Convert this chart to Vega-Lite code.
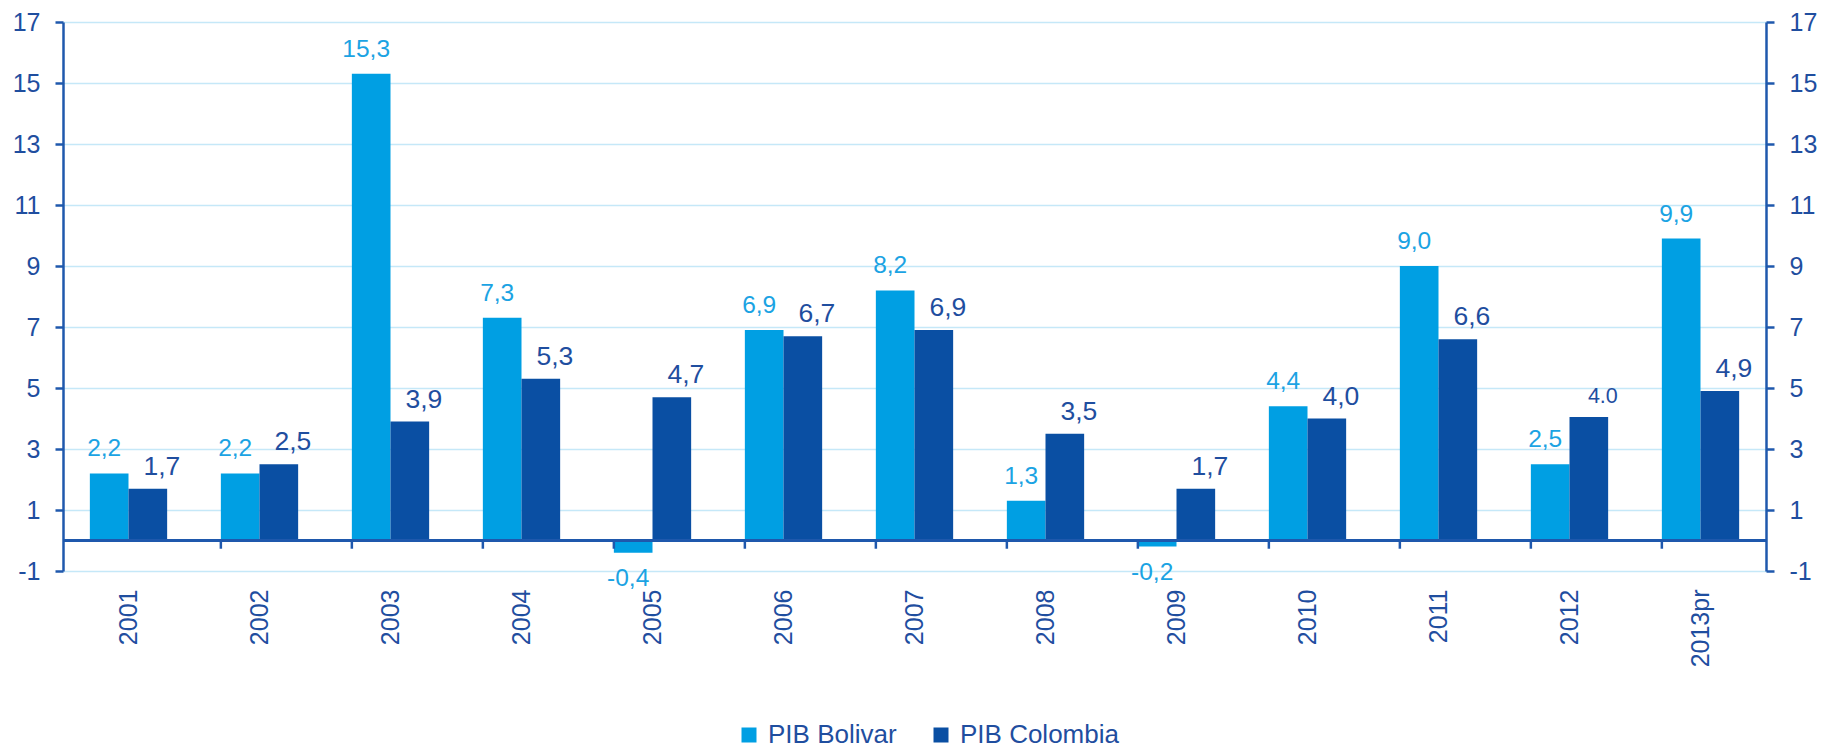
{
  "$schema": "https://vega.github.io/schema/vega-lite/v6.json",
  "autosize": {"type": "none"},
  "padding": {"left": 63, "top": 22, "right": 55, "bottom": 179},
  "width": 1703,
  "height": 549,
  "background": "white",
  "config": {
    "view": {"stroke": null},
    "font": "Liberation Sans"
  },
  "data": {
    "values": [
      {"year": "2001", "series": "PIB Bolivar", "value": 2.2, "label": "2,2"},
      {"year": "2001", "series": "PIB Colombia", "value": 1.7, "label": "1,7"},
      {"year": "2002", "series": "PIB Bolivar", "value": 2.2, "label": "2,2"},
      {"year": "2002", "series": "PIB Colombia", "value": 2.5, "label": "2,5"},
      {"year": "2003", "series": "PIB Bolivar", "value": 15.3, "label": "15,3"},
      {"year": "2003", "series": "PIB Colombia", "value": 3.9, "label": "3,9"},
      {"year": "2004", "series": "PIB Bolivar", "value": 7.3, "label": "7,3"},
      {"year": "2004", "series": "PIB Colombia", "value": 5.3, "label": "5,3"},
      {"year": "2005", "series": "PIB Bolivar", "value": -0.4, "label": "-0,4"},
      {"year": "2005", "series": "PIB Colombia", "value": 4.7, "label": "4,7"},
      {"year": "2006", "series": "PIB Bolivar", "value": 6.9, "label": "6,9"},
      {"year": "2006", "series": "PIB Colombia", "value": 6.7, "label": "6,7"},
      {"year": "2007", "series": "PIB Bolivar", "value": 8.2, "label": "8,2"},
      {"year": "2007", "series": "PIB Colombia", "value": 6.9, "label": "6,9"},
      {"year": "2008", "series": "PIB Bolivar", "value": 1.3, "label": "1,3"},
      {"year": "2008", "series": "PIB Colombia", "value": 3.5, "label": "3,5"},
      {"year": "2009", "series": "PIB Bolivar", "value": -0.2, "label": "-0,2"},
      {"year": "2009", "series": "PIB Colombia", "value": 1.7, "label": "1,7"},
      {"year": "2010", "series": "PIB Bolivar", "value": 4.4, "label": "4,4"},
      {"year": "2010", "series": "PIB Colombia", "value": 4.0, "label": "4,0"},
      {"year": "2011", "series": "PIB Bolivar", "value": 9.0, "label": "9,0"},
      {"year": "2011", "series": "PIB Colombia", "value": 6.6, "label": "6,6"},
      {"year": "2012", "series": "PIB Bolivar", "value": 2.5, "label": "2,5"},
      {"year": "2012", "series": "PIB Colombia", "value": 4.05, "label": "4.0"},
      {"year": "2013pr", "series": "PIB Bolivar", "value": 9.9, "label": "9,9"},
      {"year": "2013pr", "series": "PIB Colombia", "value": 4.9, "label": "4,9"}
    ]
  },
  "resolve": {"axis": {"y": "independent"}},
  "layer": [
    {
      "mark": {"type": "bar"},
      "encoding": {
        "x": {
          "field": "year", "type": "nominal", "sort": null,
          "scale": {"paddingInner": 0.41, "paddingOuter": 0.205},
          "axis": {
            "title": null, "labelAngle": -90, "domain": false, "ticks": false,
            "grid": false, "labelPadding": 18, "labelFontSize": 25,
            "labelColor": "#1F4E9F", "labelFont": "Liberation Sans"
          }
        },
        "xOffset": {"field": "series", "type": "nominal", "sort": ["PIB Bolivar", "PIB Colombia"]},
        "y": {
          "field": "value", "type": "quantitative",
          "scale": {"domain": [-1, 17], "nice": false, "zero": false},
          "axis": {
            "title": null, "orient": "left", "values": [-1, 1, 3, 5, 7, 9, 11, 13, 15, 17],
            "labelExpr": "replace(datum.label, '\u2212', '-')",
            "grid": true, "gridColor": "#C5E8F8", "gridWidth": 1.5,
            "domainColor": "#1F58AD", "domainWidth": 2.5,
            "tickColor": "#1F58AD", "tickWidth": 2.5, "tickSize": 8,
            "labelPadding": 15, "labelFontSize": 25, "labelColor": "#1F4E9F",
            "labelFont": "Liberation Sans"
          }
        },
        "color": {
          "field": "series", "type": "nominal",
          "scale": {"domain": ["PIB Bolivar", "PIB Colombia"], "range": ["#009FE3", "#0A4FA3"]},
          "legend": {
            "title": null, "orient": "none", "direction": "horizontal",
            "legendX": 673, "legendY": 700,
            "symbolType": "square", "symbolSize": 225, "symbolStrokeWidth": 0,
            "labelFontSize": 26, "labelColor": "#1F4E9F", "labelFont": "Liberation Sans",
            "labelOffset": 6, "columnPadding": 31
          }
        }
      }
    },
    {
      "mark": {"type": "rule", "color": "#1F58AD", "strokeWidth": 2.5},
      "encoding": {
        "y": {"datum": 0, "type": "quantitative", "axis": null}
      }
    },
    {
      "transform": [{"filter": "datum.series === 'PIB Bolivar' && datum.year !== '2001'"}],
      "mark": {"type": "rule", "color": "#1F58AD", "strokeWidth": 2.5},
      "encoding": {
        "x": {"field": "year", "type": "nominal", "sort": null, "bandPosition": 0},
        "y": {"datum": 0, "type": "quantitative", "axis": null},
        "y2": {"datum": -0.27}
      }
    },
    {
      "transform": [{"filter": "datum.series === 'PIB Bolivar' && datum.value >= 0"}],
      "mark": {"type": "text", "baseline": "alphabetic", "dy": -17, "dx": -5, "fontSize": 24.5, "color": "#1BA3E3", "font": "Liberation Sans"},
      "encoding": {
        "x": {"field": "year", "type": "nominal", "sort": null},
        "xOffset": {"field": "series", "type": "nominal", "sort": ["PIB Bolivar", "PIB Colombia"]},
        "y": {"field": "value", "type": "quantitative", "axis": null},
        "text": {"field": "label"}
      }
    },
    {
      "transform": [{"filter": "datum.value < 0"}],
      "mark": {"type": "text", "baseline": "top", "dy": 14, "dx": -5, "fontSize": 24.5, "color": "#1BA3E3", "font": "Liberation Sans"},
      "encoding": {
        "x": {"field": "year", "type": "nominal", "sort": null},
        "xOffset": {"field": "series", "type": "nominal", "sort": ["PIB Bolivar", "PIB Colombia"]},
        "y": {"field": "value", "type": "quantitative", "axis": null},
        "text": {"field": "label"}
      }
    },
    {
      "transform": [{"filter": "datum.series === 'PIB Colombia'"}],
      "mark": {"type": "text", "baseline": "alphabetic", "dy": -14, "dx": 14, "color": "#1F4E9F", "font": "Liberation Sans"},
      "encoding": {
        "x": {"field": "year", "type": "nominal", "sort": null},
        "xOffset": {"field": "series", "type": "nominal", "sort": ["PIB Bolivar", "PIB Colombia"]},
        "y": {
          "field": "value", "type": "quantitative",
          "axis": {
            "title": null, "orient": "right", "values": [-1, 1, 3, 5, 7, 9, 11, 13, 15, 17],
            "labelExpr": "replace(datum.label, '\u2212', '-')",
            "grid": false,
            "domainColor": "#1F58AD", "domainWidth": 2.5,
            "tickColor": "#1F58AD", "tickWidth": 2.5, "tickSize": 8,
            "labelPadding": 15, "labelFontSize": 25, "labelColor": "#1F4E9F",
            "labelFont": "Liberation Sans"
          }
        },
        "size": {"condition": {"test": "datum.label === '4.0'", "value": 21.5}, "value": 26.5},
        "text": {"field": "label"}
      }
    }
  ]
}
